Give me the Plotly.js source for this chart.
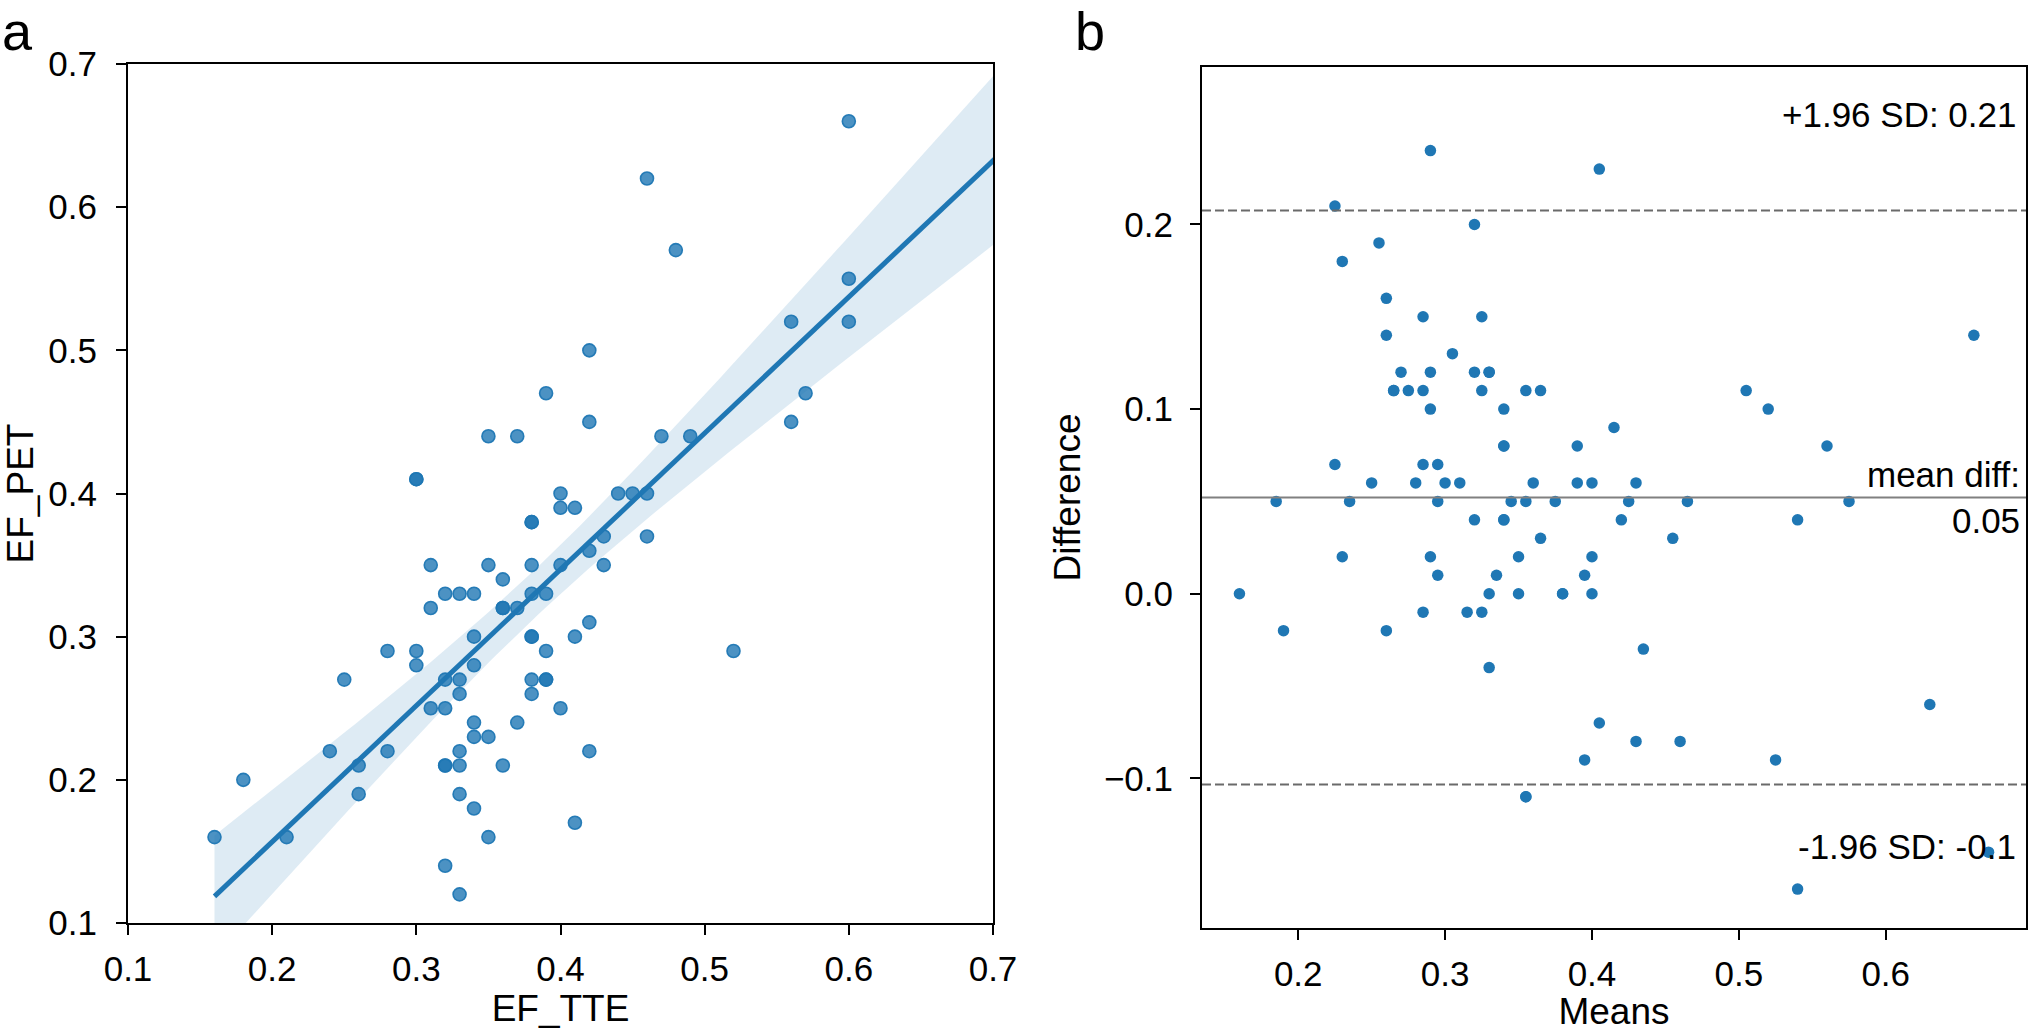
<!DOCTYPE html>
<html><head><meta charset="utf-8">
<script src="https://cdn.plot.ly/plotly-3.0.1.min.js"></script>
<style>html,body{margin:0;padding:0;background:#fff;overflow:hidden}</style>
</head><body><div id="chart" style="width:2030px;height:1032px"></div>
<script>
// EF measured by TTE (x) and PET (y), one entry per patient
const efTTE = [0.16,0.18,0.21,0.24,0.25,0.26,0.26,0.28,0.28,0.30,0.30,0.30,0.30,0.31,0.31,0.31,0.32,0.32,0.32,0.32,
               0.32,0.32,0.33,0.33,0.33,0.33,0.33,0.33,0.33,0.34,0.34,0.34,0.34,0.34,0.34,0.35,0.35,0.35,0.35,0.36,
               0.36,0.36,0.36,0.37,0.37,0.37,0.38,0.38,0.38,0.38,0.38,0.38,0.38,0.38,0.39,0.39,0.39,0.39,0.39,0.40,
               0.40,0.40,0.40,0.41,0.41,0.41,0.42,0.42,0.42,0.42,0.42,0.43,0.43,0.44,0.45,0.46,0.46,0.46,0.47,0.48,
               0.49,0.52,0.56,0.56,0.57,0.60,0.60,0.60,0.73,0.60];
const efPET = [0.16,0.20,0.16,0.22,0.27,0.21,0.19,0.29,0.22,0.41,0.41,0.29,0.28,0.35,0.32,0.25,0.33,0.27,0.25,0.21,
               0.21,0.14,0.33,0.27,0.26,0.22,0.21,0.19,0.12,0.33,0.30,0.28,0.24,0.23,0.18,0.44,0.35,0.23,0.16,0.34,
               0.32,0.32,0.21,0.44,0.32,0.24,0.38,0.38,0.35,0.33,0.30,0.30,0.27,0.26,0.47,0.33,0.29,0.27,0.27,0.40,
               0.39,0.35,0.25,0.39,0.30,0.17,0.50,0.45,0.36,0.31,0.22,0.37,0.35,0.40,0.40,0.62,0.40,0.37,0.44,0.57,
               0.44,0.29,0.52,0.45,0.47,0.66,0.55,0.52,0.59,0.74];

const xTicksA = [0.1,0.2,0.3,0.4,0.5,0.6,0.7];
const yTicksA = [0.1,0.2,0.3,0.4,0.5,0.6,0.7];
const xTicksB = [0.2,0.3,0.4,0.5,0.6];
const yTicksB = [-0.1,0.0,0.1,0.2];
const sdLimit = 1.96;

const W = 2030, H = 1032;
const FONT = 'Liberation Sans, Arial, Helvetica, sans-serif';
const BLUE = '#1f77b4';

// ---- panel a: ordinary least squares fit with 95% confidence band ----
const n = efTTE.length;
const mx = efTTE.reduce((s,v)=>s+v,0)/n;
const my = efPET.reduce((s,v)=>s+v,0)/n;
let sxx = 0, sxy = 0;
for (let i=0;i<n;i++){ sxx += (efTTE[i]-mx)**2; sxy += (efTTE[i]-mx)*(efPET[i]-my); }
const slope = sxy/sxx, icpt = my - slope*mx;
let sse = 0;
for (let i=0;i<n;i++){ sse += (efPET[i]-(icpt+slope*efTTE[i]))**2; }
const se = Math.sqrt(sse/(n-2));
const tcrit = 1.987;
const xmin = Math.min(...efTTE), xmax = Math.max(...efTTE);
const gx = [], gy = [], glo = [], ghi = [];
for (let k=0;k<100;k++){
  const x = xmin + (xmax-xmin)*k/99;
  const y = icpt + slope*x;
  const h = tcrit*se*Math.sqrt(1/n + (x-mx)**2/sxx);
  gx.push(x); gy.push(y); glo.push(y-h); ghi.push(y+h);
}

// ---- panel b: Bland-Altman ----
const means = efTTE.map((v,i)=>(v+efPET[i])/2);
const diffs = efTTE.map((v,i)=>v-efPET[i]);
const meanDiff = diffs.reduce((s,v)=>s+v,0)/n;
const stdDiff = Math.sqrt(diffs.reduce((s,v)=>s+(v-meanDiff)**2,0)/n);
const upper = meanDiff + sdLimit*stdDiff, lower = meanDiff - sdLimit*stdDiff;
const halfY = 1.5*sdLimit*stdDiff;

const traces = [
  {x: efTTE, y: efPET, type:'scatter', mode:'markers', xaxis:'x', yaxis:'y',
   marker:{size:13, color:'rgba(31,119,180,0.8)', line:{color:'rgba(31,119,180,0.95)', width:1.6}},
   hoverinfo:'skip', showlegend:false},
  {x: gx, y: glo, type:'scatter', mode:'lines', xaxis:'x', yaxis:'y',
   line:{width:0, color:'rgba(0,0,0,0)'}, hoverinfo:'skip', showlegend:false},
  {x: gx, y: ghi, type:'scatter', mode:'lines', xaxis:'x', yaxis:'y', fill:'tonexty',
   fillcolor:'rgba(31,119,180,0.15)', line:{width:0, color:'rgba(0,0,0,0)'}, hoverinfo:'skip', showlegend:false},
  {x: gx, y: gy, type:'scatter', mode:'lines', xaxis:'x', yaxis:'y',
   line:{width:5, color:BLUE}, hoverinfo:'skip', showlegend:false},
  {x: means, y: diffs, type:'scatter', mode:'markers', xaxis:'x2', yaxis:'y2',
   marker:{size:11.5, color:BLUE, line:{width:0}}, hoverinfo:'skip', showlegend:false}
];

const axisCommon = {
  showgrid:false, zeroline:false, showline:true, linecolor:'#000', linewidth:2, mirror:true,
  ticks:'outside', ticklen:10, tickwidth:2, tickcolor:'#000', tickformat:'.1f',
  tickfont:{family:FONT, size:35, color:'#000'}, fixedrange:true
};

const layout = {
  width:W, height:H, margin:{l:0,r:0,t:0,b:0}, paper_bgcolor:'#fff', plot_bgcolor:'#fff',
  font:{family:FONT, color:'#000'}, showlegend:false,
  xaxis: Object.assign({}, axisCommon, {domain:[128/W, 993/W], range:[0.1,0.7], anchor:'y',
    tickvals:xTicksA, ticklabelstandoff:4,
    title:{text:'EF_TTE', font:{family:FONT,size:37,color:'#000'}, standoff:8}}),
  yaxis: Object.assign({}, axisCommon, {domain:[1-923/H, 1-64/H], range:[0.1,0.7], anchor:'x',
    tickvals:yTicksA, ticklabelstandoff:12,
    title:{text:'EF_PET', font:{family:FONT,size:37,color:'#000'}, standoff:12}}),
  xaxis2: Object.assign({}, axisCommon, {domain:[1202/W, 2026/W], range:[0.1345,0.6955], anchor:'y2',
    tickvals:xTicksB, ticklabelstandoff:4,
    title:{text:'Means', font:{family:FONT,size:37,color:'#000'}, standoff:8}}),
  yaxis2: Object.assign({}, axisCommon, {domain:[1-928/H, 1-67/H], range:[meanDiff-halfY, meanDiff+halfY], anchor:'x2',
    tickvals:yTicksB, ticklabelstandoff:10,
    title:{text:'Difference', font:{family:FONT,size:37,color:'#000'}, standoff:12}}),
  shapes: [
    {type:'line', xref:'x2 domain', x0:0, x1:1, yref:'y2', y0:meanDiff, y1:meanDiff,
     line:{color:'#808080', width:2}},
    {type:'line', xref:'x2 domain', x0:0, x1:1, yref:'y2', y0:upper, y1:upper,
     line:{color:'#6a6a6a', width:2, dash:'9px,4px'}},
    {type:'line', xref:'x2 domain', x0:0, x1:1, yref:'y2', y0:lower, y1:lower,
     line:{color:'#6a6a6a', width:2, dash:'9px,4px'}}
  ],
  annotations: [
    {text:'a', xref:'paper', yref:'paper', x:1/W, y:1, xanchor:'left', yanchor:'top', borderpad:0,
     showarrow:false, font:{family:FONT, size:54, color:'#000'}},
    {text:'b', xref:'paper', yref:'paper', x:1074/W, y:1, xanchor:'left', yanchor:'top', borderpad:0,
     showarrow:false, font:{family:FONT, size:54, color:'#000'}},
    {text:'+1.96 SD: 0.21', xref:'x2 domain', yref:'y2 domain', x:0.99, y:0.92, xanchor:'right', yanchor:'bottom',
     showarrow:false, font:{family:FONT, size:35, color:'#000'}},
    {text:'mean diff:<br>0.05', xref:'x2 domain', yref:'y2 domain', x:0.995, y:0.5, xanchor:'right', yanchor:'middle',
     align:'right', showarrow:false, font:{family:FONT, size:35, color:'#000'}},
    {text:'-1.96 SD: -0.1', xref:'x2 domain', yref:'y2 domain', x:0.99, y:0.07, xanchor:'right', yanchor:'bottom',
     showarrow:false, font:{family:FONT, size:35, color:'#000'}}
  ]
};

Plotly.newPlot('chart', traces, layout, {displayModeBar:false, staticPlot:true});
</script></body></html>
